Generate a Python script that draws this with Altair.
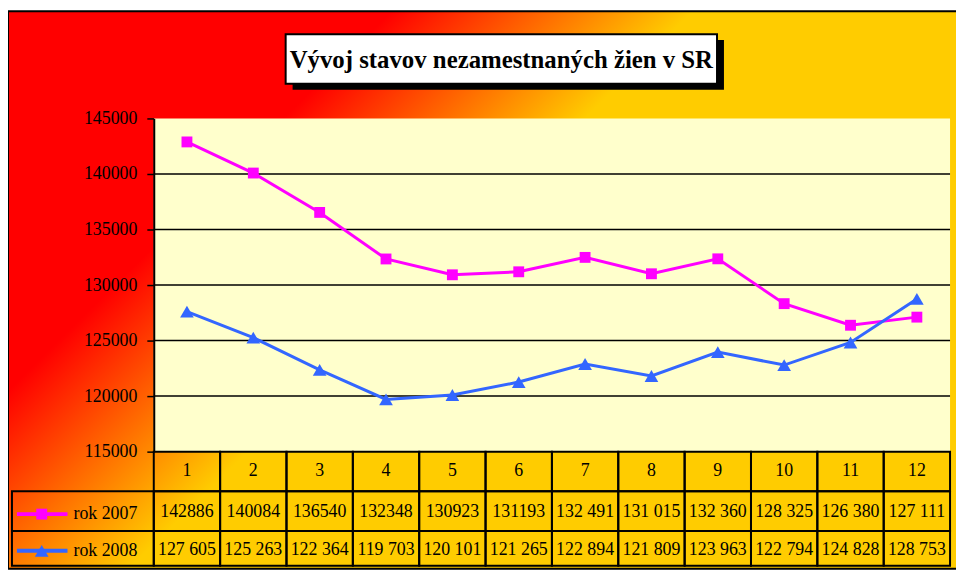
import altair as alt
import pandas as pd

# ---------------- data ----------------
months = list(range(1, 13))
month_labels = [str(m) for m in months]
rok2007 = [142886, 140084, 136540, 132348, 130923, 131193, 132491, 131015, 132360, 128325, 126380, 127111]
rok2008 = [127605, 125263, 122364, 119703, 120101, 121265, 122894, 121809, 123963, 122794, 124828, 128753]
labels2007 = ["142886", "140084", "136540", "132348", "130923", "131193",
              "132 491", "131 015", "132 360", "128 325", "126 380", "127 111"]
labels2008 = ["127 605", "125 263", "122 364", "119 703", "120 101", "121 265",
              "122 894", "121 809", "123 963", "122 794", "124 828", "128 753"]
series_names = ["rok 2007", "rok 2008"]
series_colors = ["#FF00FF", "#3366FF"]
y_ticks = [115000, 120000, 125000, 130000, 135000, 140000, 145000]
grid_values = [120000, 125000, 130000, 135000, 140000]
title_text = "Vývoj stavov nezamestnaných žien v SR"

# ---------------- layout (pixels, plot-relative) ----------------
W, H = 803, 336
FONT = "Liberation Serif, Times New Roman, serif"
FS = 18

line_df = pd.DataFrame({
    "m": months * 2,
    "v": rok2007 + rok2008,
    "s": [series_names[0]] * 12 + [series_names[1]] * 12,
})
table_df = pd.DataFrame({
    "m": months,
    "x0": [m - 0.5 for m in months],
    "x1": [m + 0.5 for m in months],
    "hdr": month_labels,
    "r1": labels2007,
    "r2": labels2008,
})
grid_df = pd.DataFrame({"v": grid_values})
one = pd.DataFrame({"k": [0]})
legend_df = pd.DataFrame({"s": series_names, "row": [0, 1]})

xs = alt.Scale(domain=[0.5, 12.5], nice=False, zero=False)
ys = alt.Scale(domain=[115000, 145000], nice=False, zero=False)
y_axis = alt.Axis(values=y_ticks, title=None, grid=False, domainColor="black", domainWidth=2,
                  tickColor="black", tickWidth=1.5, tickSize=7, labelFont=FONT, labelFontSize=FS,
                  labelColor="black", labelPadding=10, zindex=1, labelFlush=False,
                  labelOverlap=False, format="d")
X = lambda f: alt.X(f, scale=xs, axis=None)
Y = lambda f: alt.Y(f, scale=ys, axis=y_axis)
color = alt.Color("s:N", scale=alt.Scale(domain=series_names, range=series_colors), legend=None)

bg_gradient = {
    "gradient": "linear", "x1": 0, "y1": 0, "x2": 0.531, "y2": 0.312,
    "stops": [
        {"offset": 0, "color": "#FF0000"},
        {"offset": 0.56, "color": "#FF0000"},
        {"offset": 1, "color": "#FFCC00"},
    ],
}

bg = alt.Chart(one).mark_rect(color=bg_gradient, stroke="black", strokeWidth=2).encode(
    x=alt.value(-147), x2=alt.value(820), y=alt.value(-108), y2=alt.value(454))

title_shadow = alt.Chart(one).mark_rect(color="black").encode(
    x=alt.value(140), x2=alt.value(575), y=alt.value(-79), y2=alt.value(-29))
title_box = alt.Chart(one).mark_rect(color="white", stroke="black", strokeWidth=2).encode(
    x=alt.value(133), x2=alt.value(568), y=alt.value(-85), y2=alt.value(-35))
title = alt.Chart(one).mark_text(text=title_text, font=FONT, fontSize=25, fontWeight="bold",
                                 color="black", align="center", baseline="middle").encode(
    x=alt.value(350.5), y=alt.value(-59))

plot_bg = alt.Chart(one).mark_rect(color="#FFFFCC").encode(
    x=alt.value(0), x2=alt.value(W), y=alt.value(0), y2=alt.value(H))

grid = alt.Chart(grid_df).mark_rule(color="black", strokeWidth=1.5).encode(
    y=Y("v:Q"), x=alt.value(0), x2=alt.value(W))

row_bounds = [(336, 376), (376, 416), (416, 451)]
cells = []
for (y0, y1) in row_bounds:
    cells.append(alt.Chart(table_df).mark_rect(fillOpacity=0, stroke="black", strokeWidth=2).encode(
        x=X("x0:Q"), x2="x1:Q", y=alt.value(y0), y2=alt.value(y1)))
legend_cells = []
for (y0, y1) in row_bounds[1:]:
    legend_cells.append(alt.Chart(one).mark_rect(fillOpacity=0, stroke="black", strokeWidth=2).encode(
        x=alt.value(-143), x2=alt.value(0), y=alt.value(y0), y2=alt.value(y1)))

texts = []
for field, yc in [("hdr", 356), ("r1", 397), ("r2", 435)]:
    texts.append(alt.Chart(table_df).mark_text(font=FONT, fontSize=FS, color="black",
                                               align="center", baseline="middle").encode(
        x=X("m:Q"), y=alt.value(yc), text=f"{field}:N"))

lines = alt.Chart(line_df).mark_line(strokeWidth=3).encode(x=X("m:Q"), y=Y("v:Q"), color=color)
pts07 = alt.Chart(line_df).transform_filter(alt.datum.s == series_names[0]).mark_point(
    shape="square", filled=True, size=120, opacity=1).encode(x=X("m:Q"), y=Y("v:Q"), color=color)
pts08 = alt.Chart(line_df).transform_filter(alt.datum.s == series_names[1]).mark_point(
    shape="triangle-up", filled=True, size=190, opacity=1).encode(x=X("m:Q"), y=Y("v:Q"), color=color)

leg = []
for i, (yc, shp, sz) in enumerate([(399, "square", 120), (436, "triangle-up", 190)]):
    d = legend_df[legend_df.row == i]
    leg.append(alt.Chart(d).mark_rule(strokeWidth=4).encode(
        x=alt.value(-138), x2=alt.value(-87), y=alt.value(yc), color=color))
    leg.append(alt.Chart(d).mark_point(shape=shp, filled=True, size=sz, opacity=1).encode(
        x=alt.value(-113), y=alt.value(yc), color=color))
    leg.append(alt.Chart(d).mark_text(font=FONT, fontSize=FS, color="black", align="left",
                                      baseline="middle").encode(
        x=alt.value(-81), y=alt.value(yc), text="s:N"))

chart = alt.layer(
    bg, title_shadow, title_box, title, plot_bg, grid, *cells, *legend_cells, *texts,
    lines, pts07, pts08, *leg
).properties(
    width=W, height=H,
    autosize=alt.AutoSizeParams(type="none"),
    padding={"left": 147, "top": 109, "right": 6, "bottom": 120},
).configure_view(stroke=None)

chart.save("out.html", embed_options={"renderer": "svg", "actions": False})
